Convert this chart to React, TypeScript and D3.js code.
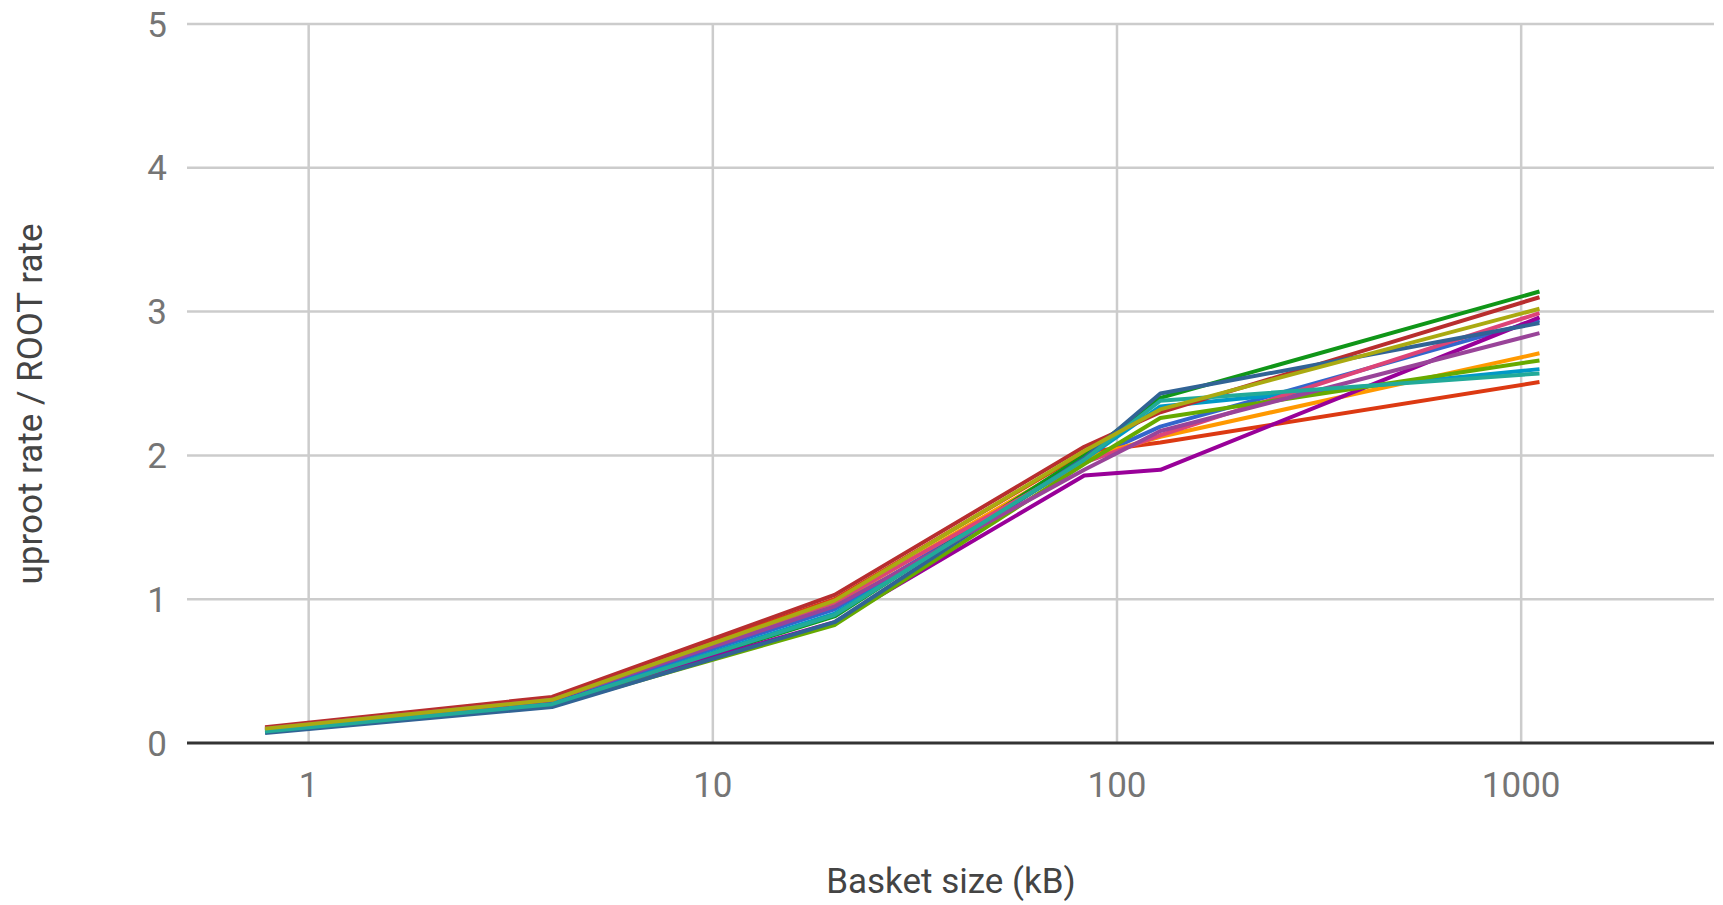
import React from "react";
import { scaleLog, scaleLinear, line } from "d3";

// basket sizes (kB) where each run was measured
const basketSizes = [0.78, 4, 20, 83, 128, 1110];

const seriesColors = [
  "#3366cc", "#dc3912", "#ff9900", "#109618", "#990099", "#0099c6", "#dd4477",
  "#66aa00", "#b82e2e", "#316395", "#994499", "#22aa99", "#aaaa11",
];

// uproot rate / ROOT rate, one row per series
const ratios = [
  [0.09, 0.29, 0.93, 1.96, 2.2, 2.94],
  [0.1, 0.31, 1.0, 2.02, 2.09, 2.51],
  [0.09, 0.3, 0.97, 1.98, 2.13, 2.71],
  [0.08, 0.27, 0.88, 2.0, 2.4, 3.14],
  [0.09, 0.28, 0.84, 1.86, 1.9, 2.96],
  [0.08, 0.27, 0.9, 1.97, 2.34, 2.6],
  [0.1, 0.31, 0.98, 1.95, 2.14, 2.99],
  [0.08, 0.26, 0.82, 1.94, 2.26, 2.66],
  [0.11, 0.32, 1.03, 2.06, 2.3, 3.1],
  [0.07, 0.25, 0.84, 1.98, 2.43, 2.92],
  [0.1, 0.3, 0.95, 1.9, 2.17, 2.85],
  [0.08, 0.27, 0.89, 1.97, 2.38, 2.57],
  [0.1, 0.3, 0.99, 2.03, 2.32, 3.02],
];

const xTicks = [1, 10, 100, 1000];
const yTicks = [0, 1, 2, 3, 4, 5];

const W = 1723;
const H = 905;
const plot = { left: 187, right: 1714, top: 24, bottom: 743 };

export default function App() {
  const x = scaleLog().domain([0.5, 3000]).range([plot.left, plot.right]);
  const y = scaleLinear().domain([0, 5]).range([plot.bottom, plot.top]);

  const lineGen = line<number>()
    .x((_, i) => x(basketSizes[i]))
    .y((d) => y(d));

  const font = "Roboto, Arial, sans-serif";

  return (
    <svg
      width={W}
      height={H}
      style={{ position: "absolute", left: 0, top: 0, background: "#fff" }}
    >
      {/* grid */}
      {yTicks.filter((t) => t > 0).map((t) => (
        <line key={"gy" + t} x1={plot.left} x2={plot.right} y1={y(t)} y2={y(t)}
          stroke="#cccccc" strokeWidth={2.5} />
      ))}
      {xTicks.map((t) => (
        <line key={"gx" + t} x1={x(t)} x2={x(t)} y1={plot.top} y2={plot.bottom}
          stroke="#cccccc" strokeWidth={2.5} />
      ))}

      {/* series */}
      {ratios.map((row, i) => (
        <path key={i} d={lineGen(row) || ""} fill="none" stroke={seriesColors[i]}
          strokeWidth={4} strokeLinejoin="round" />
      ))}

      {/* baseline */}
      <line x1={plot.left} x2={plot.right} y1={y(0)} y2={y(0)} stroke="#333333" strokeWidth={3} />

      {/* tick labels */}
      {yTicks.map((t) => (
        <text key={"ty" + t} x={167} y={y(t)} dy="0.36em" textAnchor="end"
          fontFamily={font} fontSize={35} fill="#757575">{t}</text>
      ))}
      {xTicks.map((t) => (
        <text key={"tx" + t} x={x(t)} y={797} textAnchor="middle"
          fontFamily={font} fontSize={35} fill="#757575">{t}</text>
      ))}

      {/* axis titles */}
      <text x={951} y={893} textAnchor="middle" fontFamily={font} fontSize={35} fill="#444444">
        Basket size (kB)
      </text>
      <text transform={`translate(42,404) rotate(-90)`} textAnchor="middle"
        fontFamily={font} fontSize={35} fill="#444444">
        uproot rate / ROOT rate
      </text>
    </svg>
  );
}
